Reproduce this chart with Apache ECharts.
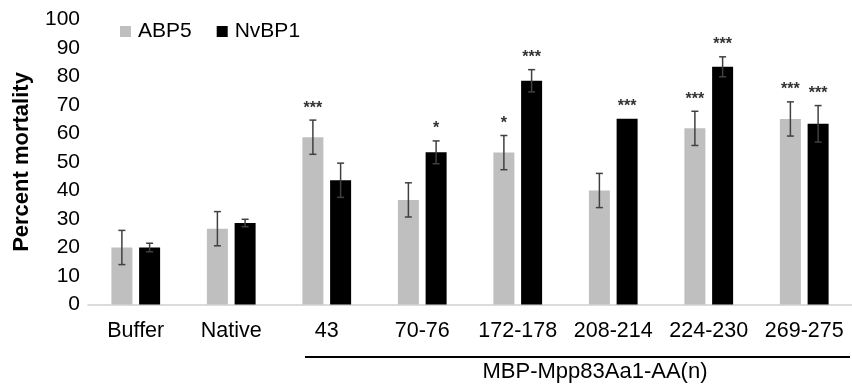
<!DOCTYPE html>
<html>
<head>
<meta charset="utf-8">
<script src="https://cdn.jsdelivr.net/npm/echarts@6/dist/echarts.min.js"></script>
<style>
html,body{margin:0;padding:0;background:#fff;}
#chart{width:852px;height:387px;}
</style>
</head>
<body>
<div id="chart"></div>
<script>
const categories = ['Buffer', 'Native', '43', '70-76', '172-178', '208-214', '224-230', '269-275'];
const yTicks = [0, 10, 20, 30, 40, 50, 60, 70, 80, 90, 100];
const abp5 = [20, 26.6, 58.7, 36.7, 53.3, 40, 61.8, 65.1];
const abp5Err = [6, 6, 6, 6, 6, 6, 6, 6];
const abp5Sig = ['', '', '***', '', '*', '', '***', '***'];
const nvbp1 = [20, 28.6, 43.6, 53.4, 78.5, 65.2, 83.4, 63.4];
const nvbp1Err = [1.5, 1.3, 6, 4, 3.9, 0, 3.5, 6.4];
const nvbp1Sig = ['', '', '', '*', '***', '***', '***', '***'];
const seriesNames = ['ABP5', 'NvBP1'];
const groupLabel = 'MBP-Mpp83Aa1-AA(n)';
const yTitle = 'Percent mortality';

const FONT = '"Liberation Sans", Arial, sans-serif';
const BAR_W = 21;
const BAR_GAP = 0.32;
const OFFSET = (BAR_W + BAR_W * BAR_GAP) / 2;

function errSeries(name, vals, errs, sigs, dir) {
  return {
    type: 'custom',
    name: name + ' err',
    z: 5,
    silent: true,
    data: vals.map((v, i) => [i, v, errs[i]]),
    encode: { x: 0, y: 1 },
    renderItem: function (params, api) {
      const i = api.value(0), v = api.value(1), e = api.value(2);
      const sig = sigs[i];
      const c = api.coord([i, v]);
      const x = c[0] + dir * OFFSET;
      const top = api.coord([i, v + e])[1];
      const bot = api.coord([i, v - e])[1];
      const children = [];
      const st = { stroke: '#404040', lineWidth: 1.5 };
      if (e > 0) {
        children.push({ type: 'line', shape: { x1: x, y1: top, x2: x, y2: bot }, style: st });
        children.push({ type: 'line', shape: { x1: x - 3.5, y1: top, x2: x + 3.5, y2: top }, style: st });
        children.push({ type: 'line', shape: { x1: x - 3.5, y1: bot, x2: x + 3.5, y2: bot }, style: st });
      }
      if (sig) {
        children.push({
          type: 'text',
          style: {
            text: sig, x: x, y: top - 12,
            align: 'center', verticalAlign: 'middle',
            font: 'bold 16px ' + FONT, fill: '#333'
          }
        });
      }
      return { type: 'group', children: children };
    }
  };
}

const chart = echarts.init(document.getElementById('chart'), null, { renderer: 'canvas' });
chart.setOption({
  animation: false,
  backgroundColor: '#fff',
  grid: { left: 88, right: -7, top: 19.5, bottom: 82.5, containLabel: false },
  legend: {
    data: seriesNames,
    left: 120, top: 21, padding: 0,
    icon: 'rect', itemWidth: 11, itemHeight: 11, itemGap: 25,
    textStyle: { fontFamily: FONT, fontSize: 21, color: '#000', padding: [0, 0, 0, 2] }
  },
  xAxis: {
    type: 'category',
    data: categories,
    axisLine: { lineStyle: { color: '#cfcfcf', width: 1.5 } },
    axisTick: { show: false },
    axisLabel: { fontFamily: FONT, fontSize: 21.5, color: '#000', margin: 16, interval: 0 }
  },
  yAxis: {
    type: 'value',
    min: yTicks[0], max: yTicks[yTicks.length - 1], interval: 10,
    axisLine: { show: false },
    axisTick: { show: false },
    splitLine: { show: false },
    axisLabel: { fontFamily: FONT, fontSize: 21, color: '#000', margin: 8 }
  },
  series: [
    { type: 'bar', name: seriesNames[0], data: abp5, barWidth: BAR_W, barGap: (BAR_GAP * 100) + '%', itemStyle: { color: '#bfbfbf' } },
    { type: 'bar', name: seriesNames[1], data: nvbp1, barWidth: BAR_W, barGap: (BAR_GAP * 100) + '%', itemStyle: { color: '#000' } },
    errSeries(seriesNames[0], abp5, abp5Err, abp5Sig, -1),
    errSeries(seriesNames[1], nvbp1, nvbp1Err, nvbp1Sig, 1)
  ],
  graphic: [
    {
      type: 'text', x: 22, y: 162, rotation: Math.PI / 2,
      style: { text: yTitle, font: 'bold 22px ' + FONT, fill: '#000', align: 'center', verticalAlign: 'middle' }
    },
    {
      type: 'line', shape: { x1: 305, y1: 357, x2: 850, y2: 357 },
      style: { stroke: '#000', lineWidth: 2 }
    },
    {
      type: 'text', x: 595, y: 372,
      style: { text: groupLabel, font: '22px ' + FONT, fill: '#000', align: 'center', verticalAlign: 'middle' }
    }
  ]
});
</script>
</body>
</html>
